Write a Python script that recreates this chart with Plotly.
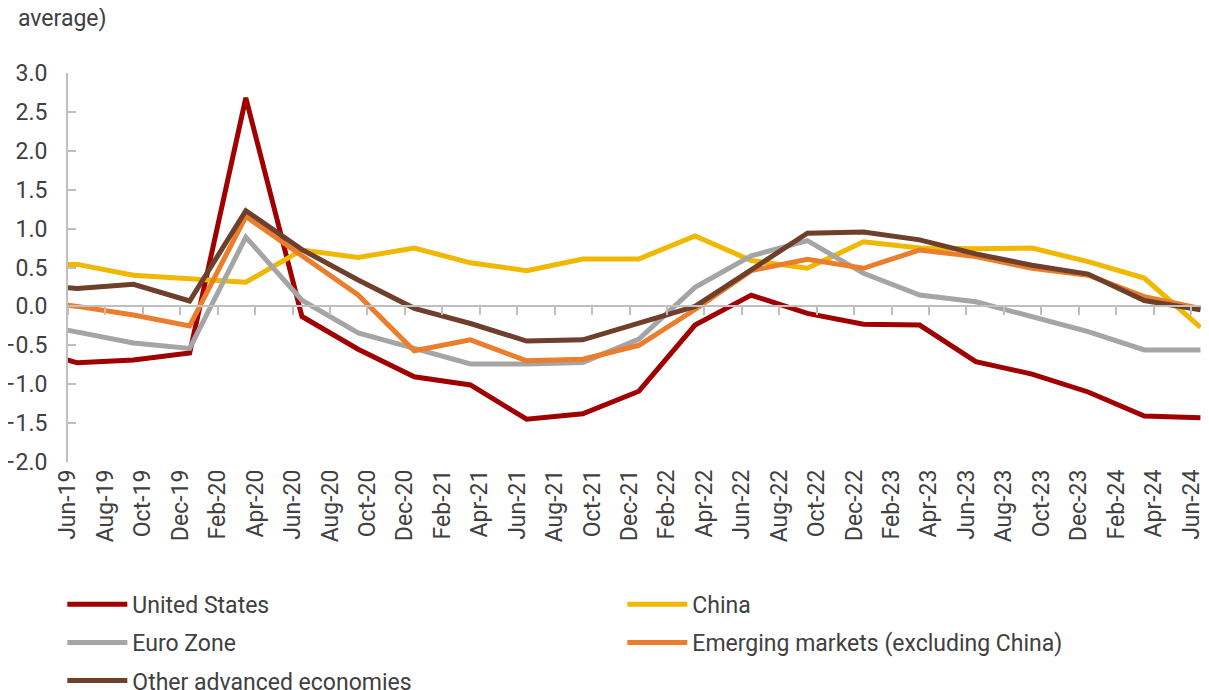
import plotly.graph_objects as go
from datetime import datetime

# ---------------- data ----------------
quarters = ["Mar-19", "Jun-19", "Sep-19", "Dec-19", "Mar-20", "Jun-20", "Sep-20", "Dec-20",
            "Mar-21", "Jun-21", "Sep-21", "Dec-21", "Mar-22", "Jun-22", "Sep-22", "Dec-22",
            "Mar-23", "Jun-23", "Sep-23", "Dec-23", "Mar-24", "Jun-24"]

united_states = [-0.52, -0.725, -0.69, -0.60, 2.68, -0.13, -0.55, -0.905, -1.01, -1.45, -1.38,
                 -1.09, -0.24, 0.145, -0.09, -0.23, -0.24, -0.71, -0.87, -1.10, -1.41, -1.43]
china = [0.54, 0.54, 0.40, 0.35, 0.31, 0.725, 0.63, 0.75, 0.56, 0.46, 0.61,
         0.61, 0.905, 0.59, 0.49, 0.83, 0.75, 0.74, 0.75, 0.575, 0.365, -0.27]
euro_zone = [-0.19, -0.33, -0.47, -0.54, 0.89, 0.08, -0.34, -0.54, -0.74, -0.74, -0.72,
             -0.42, 0.245, 0.65, 0.845, 0.425, 0.147, 0.06, -0.13, -0.325, -0.56, -0.56]
emerging = [0.09, 0.0, -0.11, -0.25, 1.155, 0.65, 0.147, -0.57, -0.43, -0.70, -0.68,
            -0.50, -0.04, 0.46, 0.605, 0.49, 0.725, 0.64, 0.49, 0.40, 0.125, -0.025]
other_adv = [0.29, 0.23, 0.285, 0.07, 1.23, 0.73, 0.34, -0.025, -0.22, -0.445, -0.43,
             -0.22, 0.0, 0.47, 0.94, 0.955, 0.855, 0.675, 0.53, 0.415, 0.075, -0.045]

tick_labels = ["Jun-19", "Aug-19", "Oct-19", "Dec-19", "Feb-20", "Apr-20", "Jun-20", "Aug-20",
               "Oct-20", "Dec-20", "Feb-21", "Apr-21", "Jun-21", "Aug-21", "Oct-21", "Dec-21",
               "Feb-22", "Apr-22", "Jun-22", "Aug-22", "Oct-22", "Dec-22", "Feb-23", "Apr-23",
               "Jun-23", "Aug-23", "Oct-23", "Dec-23", "Feb-24", "Apr-24", "Jun-24"]

y_ticks = [-2.0, -1.5, -1.0, -0.5, 0.0, 0.5, 1.0, 1.5, 2.0, 2.5, 3.0]

series_names = ["United States", "China", "Euro Zone",
                "Emerging markets (excluding China)", "Other advanced economies"]
series_values = [united_states, china, euro_zone, emerging, other_adv]
colors = ["#A00000", "#F0B800", "#A5A5A5", "#EA7E2C", "#6E3F2A"]
legend_ids = ["legend", "legend", "legend2", "legend2", "legend3"]

# ---------------- helpers ----------------
BASE = datetime.strptime("Jun-19", "%b-%y")


def month_index(label):
    d = datetime.strptime(label, "%b-%y")
    return (d.year - BASE.year) * 12 + d.month - BASE.month


x_vals = [month_index(q) for q in quarters]
# category axis: labels/ticks at the start of each month slot, points at its centre
tick_pos = [month_index(t) - 0.5 for t in tick_labels]

FONT = "Roboto, Arial, sans-serif"
TXT = "#404040"
AX = "#BFBFBF"

fig = go.Figure()
for name, vals, col, lg in zip(series_names, series_values, colors, legend_ids):
    fig.add_trace(go.Scatter(
        x=x_vals, y=vals, mode="lines", name=name,
        line=dict(color=col, width=5),
        legend=lg,
        xaxis="x2" if name == "Other advanced economies" else "x",
    ))

x_range = [-0.5, 60.03]

# the page body adds an 8px offset; size the figure to the visible area
fig.update_layout(
    width=1193, height=682,
    margin=dict(l=60, r=0, t=65, b=228, autoexpand=False),
    paper_bgcolor="white", plot_bgcolor="white",
    font=dict(family=FONT, size=23, color=TXT),
    xaxis=dict(
        range=x_range, tickmode="array", tickvals=tick_pos, ticktext=tick_labels,
        tickangle=-90, ticks="", showline=False, showgrid=False, zeroline=False,
        tickfont=dict(family=FONT, size=23, color=TXT), ticklabelstandoff=2,
        ticklabeloverflow="allow",
    ),
    xaxis2=dict(
        range=x_range, overlaying="x", anchor="free", position=0.4,
        tickmode="array", tickvals=tick_pos, showticklabels=False,
        ticks="outside", ticklen=8, tickwidth=1.5, tickcolor=AX,
        showline=True, linecolor=AX, linewidth=2, showgrid=False, zeroline=False,
    ),
    yaxis=dict(
        range=[-2, 3], tickmode="array", tickvals=y_ticks, tickformat=".1f",
        ticks="inside", ticklen=8, tickwidth=1.5, tickcolor=AX,
        showline=True, linecolor=AX, linewidth=2, showgrid=False, zeroline=False,
        tickfont=dict(family=FONT, size=23, color=TXT), ticklabelstandoff=14,
        ticklabeloverflow="allow",
    ),
    showlegend=True,
)

legend_common = dict(orientation="h", xanchor="left", yanchor="middle",
                     entrywidth=485, entrywidthmode="pixels",
                     font=dict(family=FONT, size=23, color=TXT),
                     bgcolor="rgba(0,0,0,0)", itemwidth=60, traceorder="normal")
fig.update_layout(
    legend=dict(x=-0.005, y=-0.366, **legend_common),
    legend2=dict(x=-0.005, y=-0.464, **legend_common),
    legend3=dict(x=-0.005, y=-0.562, **legend_common),
)

fig.add_annotation(
    text="average)", xref="paper", yref="paper", x=-0.046, y=1.141,
    xanchor="left", yanchor="middle", showarrow=False,
    font=dict(family=FONT, size=23, color=TXT),
)

fig.write_html("out.html")
